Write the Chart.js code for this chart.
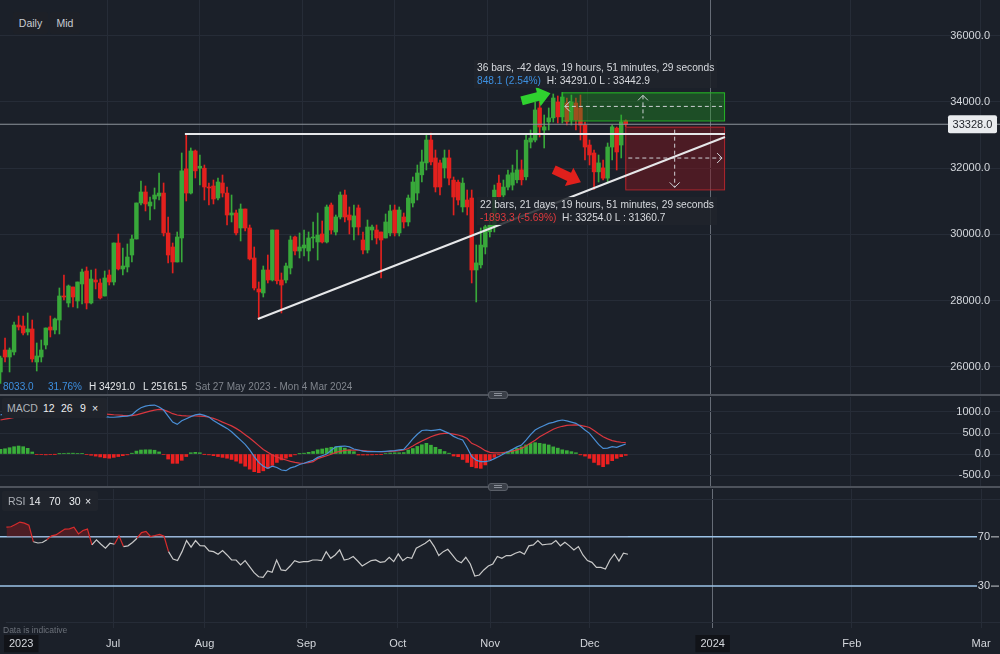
<!DOCTYPE html>
<html>
<head>
<meta charset="utf-8">
<title>Japan 225 daily</title>
<script src="https://cdn.jsdelivr.net/npm/chart.js"></script>
<style>
  html, body { margin: 0; padding: 0; background: #1b2029; }
  #wrap { position: relative; width: 1000px; height: 654px; overflow: hidden; background: #1b2029;
          font-family: "Liberation Sans", Arial, sans-serif; color: #d4d7dc; }
  canvas { position: absolute; left: 0; }
  .t { position: absolute; white-space: nowrap; font-size: 10px; line-height: 12px; }
  .btn { position: absolute; top: 12px; height: 22px; line-height: 22px; background: #1d2027; color: #c9cdd3;
         font-size: 10.5px; text-align: center; border-radius: 2px; }
  .sep { position: absolute; left: 0; width: 1000px; height: 2px; background: #4d525b; }
  .handle { position: absolute; left: 488px; width: 20px; height: 8px; background: #3a3f48; border-radius: 3px;
            border: 1px solid #5a5f68; box-sizing: border-box; }
  .handle:after { content: ""; position: absolute; left: 5px; right: 5px; top: 1px; height: 1px;
                  border-top: 1px solid #8a8f98; border-bottom: 1px solid #8a8f98; }
  .tag { position: absolute; left: 2px; height: 20px; background: #20242c; border-radius: 2px; font-size: 10.5px; }
  .tag span { position: absolute; top: 4px; color: #eceef1; }
  .tag span.n { color: #aeb2b9; }
  .measure { position: absolute; background: rgba(32,36,44,0.85); padding: 1px 3px; font-size: 10.2px;
             line-height: 13px; color: #d8dadf; white-space: nowrap; }
</style>
</head>
<body>
<div id="wrap">
  <canvas id="price" width="1000" height="395" style="top:0px"></canvas>
  <canvas id="macd" width="1000" height="90" style="top:397px"></canvas>
  <canvas id="rsi" width="1000" height="165" style="top:489px"></canvas>

  <div class="btn" style="left:13px;width:35px">Daily</div>
  <div class="btn" style="left:50px;width:30px">Mid</div>

  <div class="measure" style="left:474px;top:60px">36 bars, -42 days, 19 hours, 51 minutes, 29 seconds<br><span style="color:#3d8fe0">848.1 (2.54%)</span>&nbsp; H: 34291.0 L : 33442.9</div>
  <div class="measure" style="left:477px;top:197px">22 bars, 21 days, 19 hours, 51 minutes, 29 seconds<br><span style="color:#e0393e">-1893.3 (-5.69%)</span>&nbsp; H: 33254.0 L : 31360.7</div>

  <div class="t" style="left:3px;top:381px;color:#3d8fe0">8033.0</div>
  <div class="t" style="left:48px;top:381px;color:#3d8fe0">31.76%</div>
  <div class="t" style="left:89px;top:381px;color:#e4e6e9">H 34291.0</div>
  <div class="t" style="left:143px;top:381px;color:#e4e6e9">L 25161.5</div>
  <div class="t" style="left:195px;top:381px;color:#80858d">Sat 27 May 2023 - Mon 4 Mar 2024</div>

  <div class="sep" style="top:394px"></div>
  <div class="handle" style="top:391px"></div>
  <div class="sep" style="top:486px"></div>
  <div class="handle" style="top:483px"></div>

  <div class="tag" style="top:398px;width:105px">
    <span class="n" style="left:5px">MACD</span><span style="left:41px">12</span><span style="left:59px">26</span><span style="left:78px">9</span><span style="left:90px">×</span>
  </div>
  <div class="tag" style="top:491px;width:96px">
    <span class="n" style="left:6px">RSI</span><span style="left:27px">14</span><span style="left:47px">70</span><span style="left:67px">30</span><span style="left:83px">×</span>
  </div>

  <div class="t" style="left:3px;top:624px;font-size:8.5px;color:#6b7079">Data is indicative</div>
</div>

<script>
// ---- data (one entry per daily bar) ----
const opens = [
  25846,26510,26299,26450,27265,27235,27054,27145,26148,26299,
  26661,27205,27114,27416,28141,27930,28413,27990,28504,28896,
  27930,28624,28534,28141,28775,28564,29742,28957,29017,29379,
  29862,30950,31282,30860,31070,31160,31250,30044,29621,29168,
  29893,31980,31250,32520,32000,32000,31433,31463,31100,31554,
  31250,30587,30648,30195,30769,30195,29289,28353,28232,28926,
  28624,30134,28624,28624,28987,29923,29500,29591,29500,29893,
  29772,30014,29772,30889,30074,30527,31191,30587,30225,30800,
  29832,29530,30134,30134,30074,29893,30044,30738,30044,30527,
  30376,30950,31250,31800,32160,32852,32310,32160,32010,32310,
  31640,31580,30830,31040,31100,28926,29080,29620,30080,30230,
  31550,31190,31430,31490,31650,31950,31740,32790,32850,33820,
  33150,33400,33520,34000,33550,33970,33460,33970,33820,33300,
  32700,32460,31890,32010,31700,32640,33210,32700,33430
];
const highs = [
  26329,26873,26571,27356,27537,27537,27628,27416,26722,26812,
  27175,27537,27477,28383,28775,28473,28413,28564,28957,29017,
  28926,28957,28655,28896,28926,29742,30014,29591,29712,29983,
  30950,31614,31463,31131,31403,31856,31554,30527,29742,30074,
  32460,33003,32611,32550,32399,32097,31554,31644,31705,31795,
  31433,31191,30738,30920,30769,30285,29621,28564,29047,29379,
  30134,30134,28836,29138,29953,29953,30044,30134,30074,30376,
  30648,30406,30889,30950,30587,31282,31342,30829,30889,30889,
  30074,30436,30285,30285,30074,30618,30889,30889,30829,30648,
  31191,31735,32097,32550,33003,33064,32550,32248,32550,32550,
  31735,31644,31705,31342,31342,29681,30195,30285,30587,31493,
  31795,31644,31946,32097,32550,32248,33003,33154,34000,34000,
  33607,33819,34242,34181,34291,34121,34211,34121,34211,33396,
  32852,32550,32399,32248,32762,33305,33245,33607,33460
];
const lows = [
  25500,26148,25846,26359,27114,26963,26963,26148,25876,26148,
  26541,26903,26994,26994,28020,27809,27809,27779,27900,27749,
  27900,28353,28051,28141,28473,28473,28926,28775,28866,29168,
  29862,30889,30708,30436,30769,31040,29953,29138,28836,29168,
  29168,31010,31222,31705,31493,31040,30889,30920,31040,31131,
  30285,30376,29983,29802,30104,29228,28322,27477,28111,28534,
  28594,28504,27628,28534,28806,29379,29289,29349,29198,29591,
  29228,29742,29742,30014,29983,30467,30376,30014,29832,29983,
  29410,29440,29832,29712,28685,29893,29953,29953,29953,30195,
  30255,30829,31040,31584,31946,32097,31282,31191,31705,31493,
  30587,30889,30678,30587,28534,27960,28987,29410,29923,30074,
  31040,31040,31342,31342,31554,31493,31644,32611,32792,32943,
  32611,33154,33396,33365,33365,33305,33305,33154,32852,32248,
  32097,31361,31584,31644,31584,32248,31946,32309,33254
];
const closes = [
  26269,26299,26510,27265,27205,27024,27145,26239,26329,26510,
  27175,27114,27447,28141,28111,28443,28111,28564,28866,27930,
  28655,28564,28081,28685,28564,29742,28957,29047,29319,29862,
  30950,31282,30920,30980,31191,31250,30044,29379,29168,29923,
  31920,31250,32520,31920,32060,31433,31403,31070,31584,31250,
  30587,30648,30044,30769,30195,29260,28383,28262,28926,28624,
  30134,28600,28473,29047,29832,29500,29621,29681,29893,29923,
  29983,29772,30829,30134,30527,31191,30527,30436,30560,30225,
  29530,30225,30225,29893,29832,30376,30708,30044,30738,30376,
  31100,31584,31856,32190,32852,32190,31433,31433,32310,31700,
  31130,31040,31550,30830,28926,29140,29680,30230,30290,31340,
  31130,31430,31800,31860,31950,31650,32850,32910,33760,33245,
  33250,33520,34120,33550,34150,33400,34000,33460,33300,32640,
  32400,31890,32160,31700,32640,33250,32490,33400,33328
];

const macdLine = [
  928,960,990,1010,1030,1045,1050,1040,1010,990,
  985,990,1000,1010,1020,1020,1010,990,970,950,
  930,910,895,888,880,875,885,895,900,930,
  1030,1100,1140,1160,1165,1120,1047,900,760,706,
  790,840,890,930,950,920,880,800,730,670,
  610,530,430,330,230,100,-60,-200,-290,-340,
  -290,-320,-380,-397,-330,-300,-250,-220,-180,-150,
  -80,-40,0,90,170,180,190,170,120,
  95,70,56,55,55,56,65,75,80,100,
  111,230,360,470,560,571,555,570,587,540,
  492,420,370,333,150,-60,-150,-180,-183,-160,
  -110,-60,0,56,110,170,214,330,460,571,
  630,680,730,754,790,809,790,760,730,660,
  570,492,360,230,135,140,175,160,200,238
];
const signalLine = [
  809,830,850,870,890,905,920,930,940,945,
  950,955,960,965,970,972,975,975,972,968,
  964,960,955,952,945,935,928,920,915,912,
  930,960,990,1020,1045,1063,1050,1010,960,928,
  915,908,905,905,904,895,875,849,810,760,
  715,670,610,540,460,380,290,200,110,40,
  -24,-70,-110,-143,-175,-200,-215,-220,-205,-183,
  -110,-75,-40,-5,40,65,85,95,95,
  90,80,72,65,60,58,58,62,70,80,
  95,130,190,254,310,360,412,450,480,492,
  490,475,452,420,370,254,210,150,80,40,
  25,25,35,50,70,100,135,190,260,330,
  412,470,530,590,630,660,680,690,692,680,
  660,630,560,480,412,360,320,294,280,270
];
const macdHist = [
  111,125,150,174,190,174,135,48,-10,-15,
  -20,-15,-5,5,15,20,20,15,8,-15,
  -30,-50,-70,-90,-100,-80,-60,-40,-20,20,
  70,95,100,100,90,50,-10,-120,-222,-222,
  -150,-60,30,40,30,-5,-20,-40,-60,-80,
  -100,-130,-170,-220,-290,-360,-420,-444,-400,-340,
  -270,-200,-140,-100,-60,-20,5,20,40,60,
  100,120,140,160,170,174,140,100,56,
  -24,-24,-24,-20,-15,-5,10,25,30,30,
  35,95,130,180,220,254,210,160,110,60,
  20,-48,-63,-130,-200,-300,-330,-341,-260,-150,
  -80,-20,30,56,95,135,170,215,250,270,
  254,238,215,170,140,100,80,56,30,-20,
  -50,-103,-200,-260,-301,-238,-159,-103,-63,-32
];
const rsiLine = [
  77.9,78.2,80,82,81.2,79.5,66,65,65.4,67.6,
  70.8,71.6,74,76.3,76.5,77.9,72.4,75.2,76.3,63.5,
  67.6,64,60.8,64.8,64,70.8,62.1,62.7,65.4,68.9,
  73.5,74.4,70.3,71.1,72,70.5,58,52,50.7,58,
  67,61.6,67,62.9,62.7,58.6,58,55.9,58.8,55.3,
  51.2,51.2,47.2,50.7,45.8,40.9,37.6,37.1,42.3,41.2,
  51.2,43.1,42.5,46.3,50.7,49.3,49.9,49.9,51.2,51.2,
  50.7,58,52.6,55.3,59.4,51.2,52,54,50.4,
  46.3,48.5,50.7,51.2,49.3,49.9,53.4,49.9,56.1,50.7,
  53.4,52.6,60.8,62.7,64.8,67.6,62.1,54.8,58,59.9,
  55.3,50.7,49,53.4,48,38.2,39,43.1,46.3,48,
  54,52.6,54.8,54.8,56.7,58,55.9,62.7,63.5,67,
  63.5,64,64.3,67,62.7,65.6,62.7,59.4,62.1,55.3,
  50.7,49.3,45.2,45.2,43.9,51.2,56.1,50.4,56.7,55.9
];

// axis ticks (x in bar units, month starts)
const xTickPos = [3.3, 23.7, 44.0, 66.6, 86.9, 107.4, 129.5, 156.8, 187.7, 216.4];
const xTickLabels = ['2023', 'Jul', 'Aug', 'Sep', 'Oct', 'Nov', 'Dec', '2024', 'Feb', 'Mar'];
const priceTicks = [26000, 28000, 30000, 32000, 34000, 36000];
const macdTicks = [-500, 0, 500, 1000];
const rsiGridTicks = [0, 100];
const rsiLevels = [70, 30];
const lastPrice = 33328;

// drawings, in bar index / price units
const resistance = { x0: 40.7, x1: 159.9, y: 33030 };
const trendline = { x0: 56.8, y0: 27447, x1: 159.9, y1: 32943 };
const greenBox = { x0: 123.9, x1: 159.7, hi: 34291, lo: 33442.9 };
const redBox = { x0: 137.9, x1: 159.7, hi: 33254, lo: 31360.7 };
const greenArrow = { x: 118.2, y: 34150 };
const redArrow = { x: 125.1, y: 31765 };

const GREEN = '#38a83a', RED = '#e3211e', GRID = '#262c37';
const X_MIN = -0.11, X_MAX = 220.6;
const FONT = '"Liberation Sans", Arial, sans-serif';

function xGridColor(ctx) {
  if (ctx.index === 0) return 'rgba(0,0,0,0)';
  return xTickLabels[ctx.index] === '2024' ? '#666c76' : GRID;
}

function xScale(showLabels) {
  return {
    type: 'linear', min: X_MIN, max: X_MAX, offset: false,
    afterBuildTicks: s => { s.ticks = xTickPos.map(v => ({ value: v })); },
    afterFit: s => { s.height = showLabels ? 26 : 0; },
    ticks: {
      display: showLabels, autoSkip: false, maxRotation: 0, padding: 9,
      color: '#d4d7dc', font: { family: FONT, size: 11 },
      callback: (v, i) => xTickLabels[i],
      showLabelBackdrop: ctx => /^\d{4}$/.test(xTickLabels[ctx.index] || ''),
      backdropColor: '#111318',
      backdropPadding: { x: 5, y: 2 }
    },
    grid: { color: xGridColor, drawTicks: false, offset: false },
    border: { display: false }
  };
}

function rightY(min, max, ticks) {
  return {
    type: 'linear', position: 'right', min: min, max: max, beginAtZero: false,
    afterBuildTicks: s => { s.ticks = ticks.map(v => ({ value: v })); },
    afterFit: s => { s.width = 0; },
    ticks: { display: false },
    grid: { color: GRID, drawTicks: false },
    border: { display: false }
  };
}

function yLabels(ticks, fmt) {
  return {
    id: 'ylabels',
    afterDraw(chart) {
      const ctx = chart.ctx, y = chart.scales.y;
      ctx.save();
      ctx.font = '11px ' + FONT;
      ctx.fillStyle = '#d4d7dc';
      ctx.textAlign = 'right';
      ctx.textBaseline = 'middle';
      ticks.forEach(v => ctx.fillText(fmt(v), 990, y.getPixelForValue(v)));
      ctx.restore();
    }
  };
}

const baseOptions = {
  responsive: false,
  animation: false,
  events: [],
  layout: { padding: 0 },
  plugins: { legend: { display: false }, tooltip: { enabled: false } }
};

// ---- price panel ----
function chevron(ctx, x, y, dir) {
  ctx.beginPath();
  if (dir === 'left') { ctx.moveTo(x + 5, y - 5); ctx.lineTo(x, y); ctx.lineTo(x + 5, y + 5); }
  if (dir === 'right') { ctx.moveTo(x - 5, y - 5); ctx.lineTo(x, y); ctx.lineTo(x - 5, y + 5); }
  if (dir === 'up') { ctx.moveTo(x - 5, y + 5); ctx.lineTo(x, y); ctx.lineTo(x + 5, y + 5); }
  if (dir === 'down') { ctx.moveTo(x - 5, y - 5); ctx.lineTo(x, y); ctx.lineTo(x + 5, y - 5); }
  ctx.stroke();
}

function blockArrow(ctx, cx, cy, ang, color) {
  ctx.save();
  ctx.translate(cx, cy);
  ctx.rotate(ang * Math.PI / 180);
  ctx.fillStyle = color;
  ctx.beginPath();
  ctx.moveTo(-15, -4.5); ctx.lineTo(2, -4.5); ctx.lineTo(2, -10); ctx.lineTo(15, 0);
  ctx.lineTo(2, 10); ctx.lineTo(2, 4.5); ctx.lineTo(-15, 4.5);
  ctx.closePath();
  ctx.fill();
  ctx.restore();
}

const drawings = {
  id: 'drawings',
  afterDatasetsDraw(chart) {
    const ctx = chart.ctx;
    const X = v => chart.scales.x.getPixelForValue(v);
    const Y = v => chart.scales.y.getPixelForValue(v);
    ctx.save();

    // last price line
    ctx.strokeStyle = '#8e939b';
    ctx.lineWidth = 1.2;
    ctx.beginPath();
    ctx.moveTo(0, Y(lastPrice)); ctx.lineTo(chart.width, Y(lastPrice));
    ctx.stroke();

    // measurement boxes
    [[greenBox, 'rgba(34,160,34,0.36)', '#25b825', 'left', 'up'],
     [redBox, 'rgba(125,22,32,0.5)', '#b3252c', 'right', 'down']].forEach(([b, fill, stroke, hd, vd]) => {
      const l = X(b.x0), r = X(b.x1), t = Y(b.hi), btm = Y(b.lo);
      ctx.fillStyle = fill;
      ctx.fillRect(l, t, r - l, btm - t);
      ctx.strokeStyle = stroke;
      ctx.lineWidth = 1;
      ctx.setLineDash([]);
      ctx.strokeRect(l + 0.5, t + 0.5, r - l, btm - t);
      const my = (t + btm) / 2, mx = (l + r) / 2;
      ctx.strokeStyle = '#cfd2d6';
      ctx.setLineDash([4, 3]);
      ctx.beginPath();
      ctx.moveTo(l + 3, my); ctx.lineTo(r - 2, my);
      ctx.moveTo(mx, t + 3); ctx.lineTo(mx, btm - 2);
      ctx.stroke();
      ctx.setLineDash([]);
      chevron(ctx, hd === 'left' ? l + 3 : r - 2, my, hd);
      chevron(ctx, mx, vd === 'up' ? t + 3 : btm - 2, vd);
    });

    // resistance and rising trendline
    ctx.strokeStyle = '#e6e7e9';
    ctx.lineWidth = 2;
    ctx.beginPath();
    ctx.moveTo(X(resistance.x0), Y(resistance.y)); ctx.lineTo(X(resistance.x1), Y(resistance.y));
    ctx.moveTo(X(trendline.x0), Y(trendline.y0)); ctx.lineTo(X(trendline.x1), Y(trendline.y1));
    ctx.stroke();

    blockArrow(ctx, X(greenArrow.x), Y(greenArrow.y), -15, '#2fd12f');
    blockArrow(ctx, X(redArrow.x), Y(redArrow.y), 25, '#e0201c');
    ctx.restore();
  }
};

const lastPriceTag = {
  id: 'lastTag',
  afterDraw(chart) {
    const ctx = chart.ctx, y = chart.scales.y.getPixelForValue(lastPrice);
    ctx.save();
    ctx.fillStyle = '#e9ebee';
    ctx.beginPath();
    ctx.roundRect(948, y - 9, 49, 18, 2);
    ctx.fill();
    ctx.fillStyle = '#23262c';
    ctx.font = '11px ' + FONT;
    ctx.textAlign = 'center';
    ctx.textBaseline = 'middle';
    ctx.fillText(lastPrice.toFixed(1), 972.5, y + 0.5);
    ctx.restore();
  }
};

const candleColor = ctx => {
  const i = ctx.dataIndex || 0;
  return closes[i] >= opens[i] ? GREEN : RED;
};

new Chart(document.getElementById('price'), {
  type: 'bar',
  data: {
    datasets: [
      { data: opens.map((o, i) => ({ x: i, y: [o, closes[i]] })), backgroundColor: candleColor,
        barThickness: 3.8, minBarLength: 1, grouped: false, order: 1 },
      { data: lows.map((l, i) => ({ x: i, y: [l, highs[i]] })), backgroundColor: candleColor,
        barThickness: 1, grouped: false, order: 2 }
    ]
  },
  options: Object.assign({}, baseOptions, {
    scales: { x: xScale(false), y: rightY(25151, 37080, priceTicks) }
  }),
  plugins: [drawings, yLabels(priceTicks, v => v.toFixed(1)), lastPriceTag]
});

// ---- MACD panel ----
new Chart(document.getElementById('macd'), {
  type: 'bar',
  data: {
    datasets: [
      { type: 'line', data: macdLine.map((v, i) => ({ x: i, y: v })), borderColor: '#4a8fd6',
        borderWidth: 1.2, pointRadius: 0, order: 0 },
      { type: 'line', data: signalLine.map((v, i) => ({ x: i, y: v })), borderColor: '#d9363e',
        borderWidth: 1.2, pointRadius: 0, order: 0 },
      { data: macdHist.map((v, i) => ({ x: i, y: v })), barThickness: 3, grouped: false, order: 1,
        backgroundColor: ctx => (macdHist[ctx.dataIndex || 0] >= 0 ? '#3aae3a' : '#ec2020') }
    ]
  },
  options: Object.assign({}, baseOptions, {
    scales: { x: xScale(false), y: rightY(-785, 1357, macdTicks) }
  }),
  plugins: [yLabels(macdTicks, v => v.toFixed(1))]
});

// ---- RSI panel ----
const rsiLevelsPlugin = {
  id: 'rsiLevels',
  beforeDatasetsDraw(chart) {
    const ctx = chart.ctx, y = chart.scales.y;
    ctx.save();
    ctx.font = '11px ' + FONT;
    ctx.fillStyle = '#d4d7dc';
    ctx.textAlign = 'right';
    ctx.textBaseline = 'middle';
    rsiLevels.forEach(v => {
      const py = y.getPixelForValue(v);
      ctx.strokeStyle = '#9cc3e8';
      ctx.lineWidth = 1.5;
      ctx.beginPath();
      ctx.moveTo(0, py); ctx.lineTo(977, py);
      ctx.stroke();
      ctx.fillText(String(v), 990, py);
      ctx.strokeStyle = '#c9ccd1';
      ctx.lineWidth = 1;
      ctx.beginPath();
      ctx.moveTo(991, py); ctx.lineTo(999, py);
      ctx.stroke();
    });
    ctx.restore();
  }
};

new Chart(document.getElementById('rsi'), {
  type: 'line',
  data: {
    datasets: [{
      data: rsiLine.map((v, i) => ({ x: i, y: v })),
      borderColor: '#c9c9c9',
      borderWidth: 1.2,
      pointRadius: 0,
      segment: {
        borderColor: ctx => (ctx.p0.parsed.y > 70 || ctx.p1.parsed.y > 70 ? '#d92c2c' : '#c9c9c9')
      },
      fill: { target: { value: 70 }, above: 'rgba(125,25,32,0.5)', below: 'rgba(0,0,0,0)' }
    }]
  },
  options: Object.assign({}, baseOptions, {
    scales: { x: xScale(true), y: rightY(-4.07, 108.9, rsiGridTicks) }
  }),
  plugins: [rsiLevelsPlugin]
});
</script>
</body>
</html>
